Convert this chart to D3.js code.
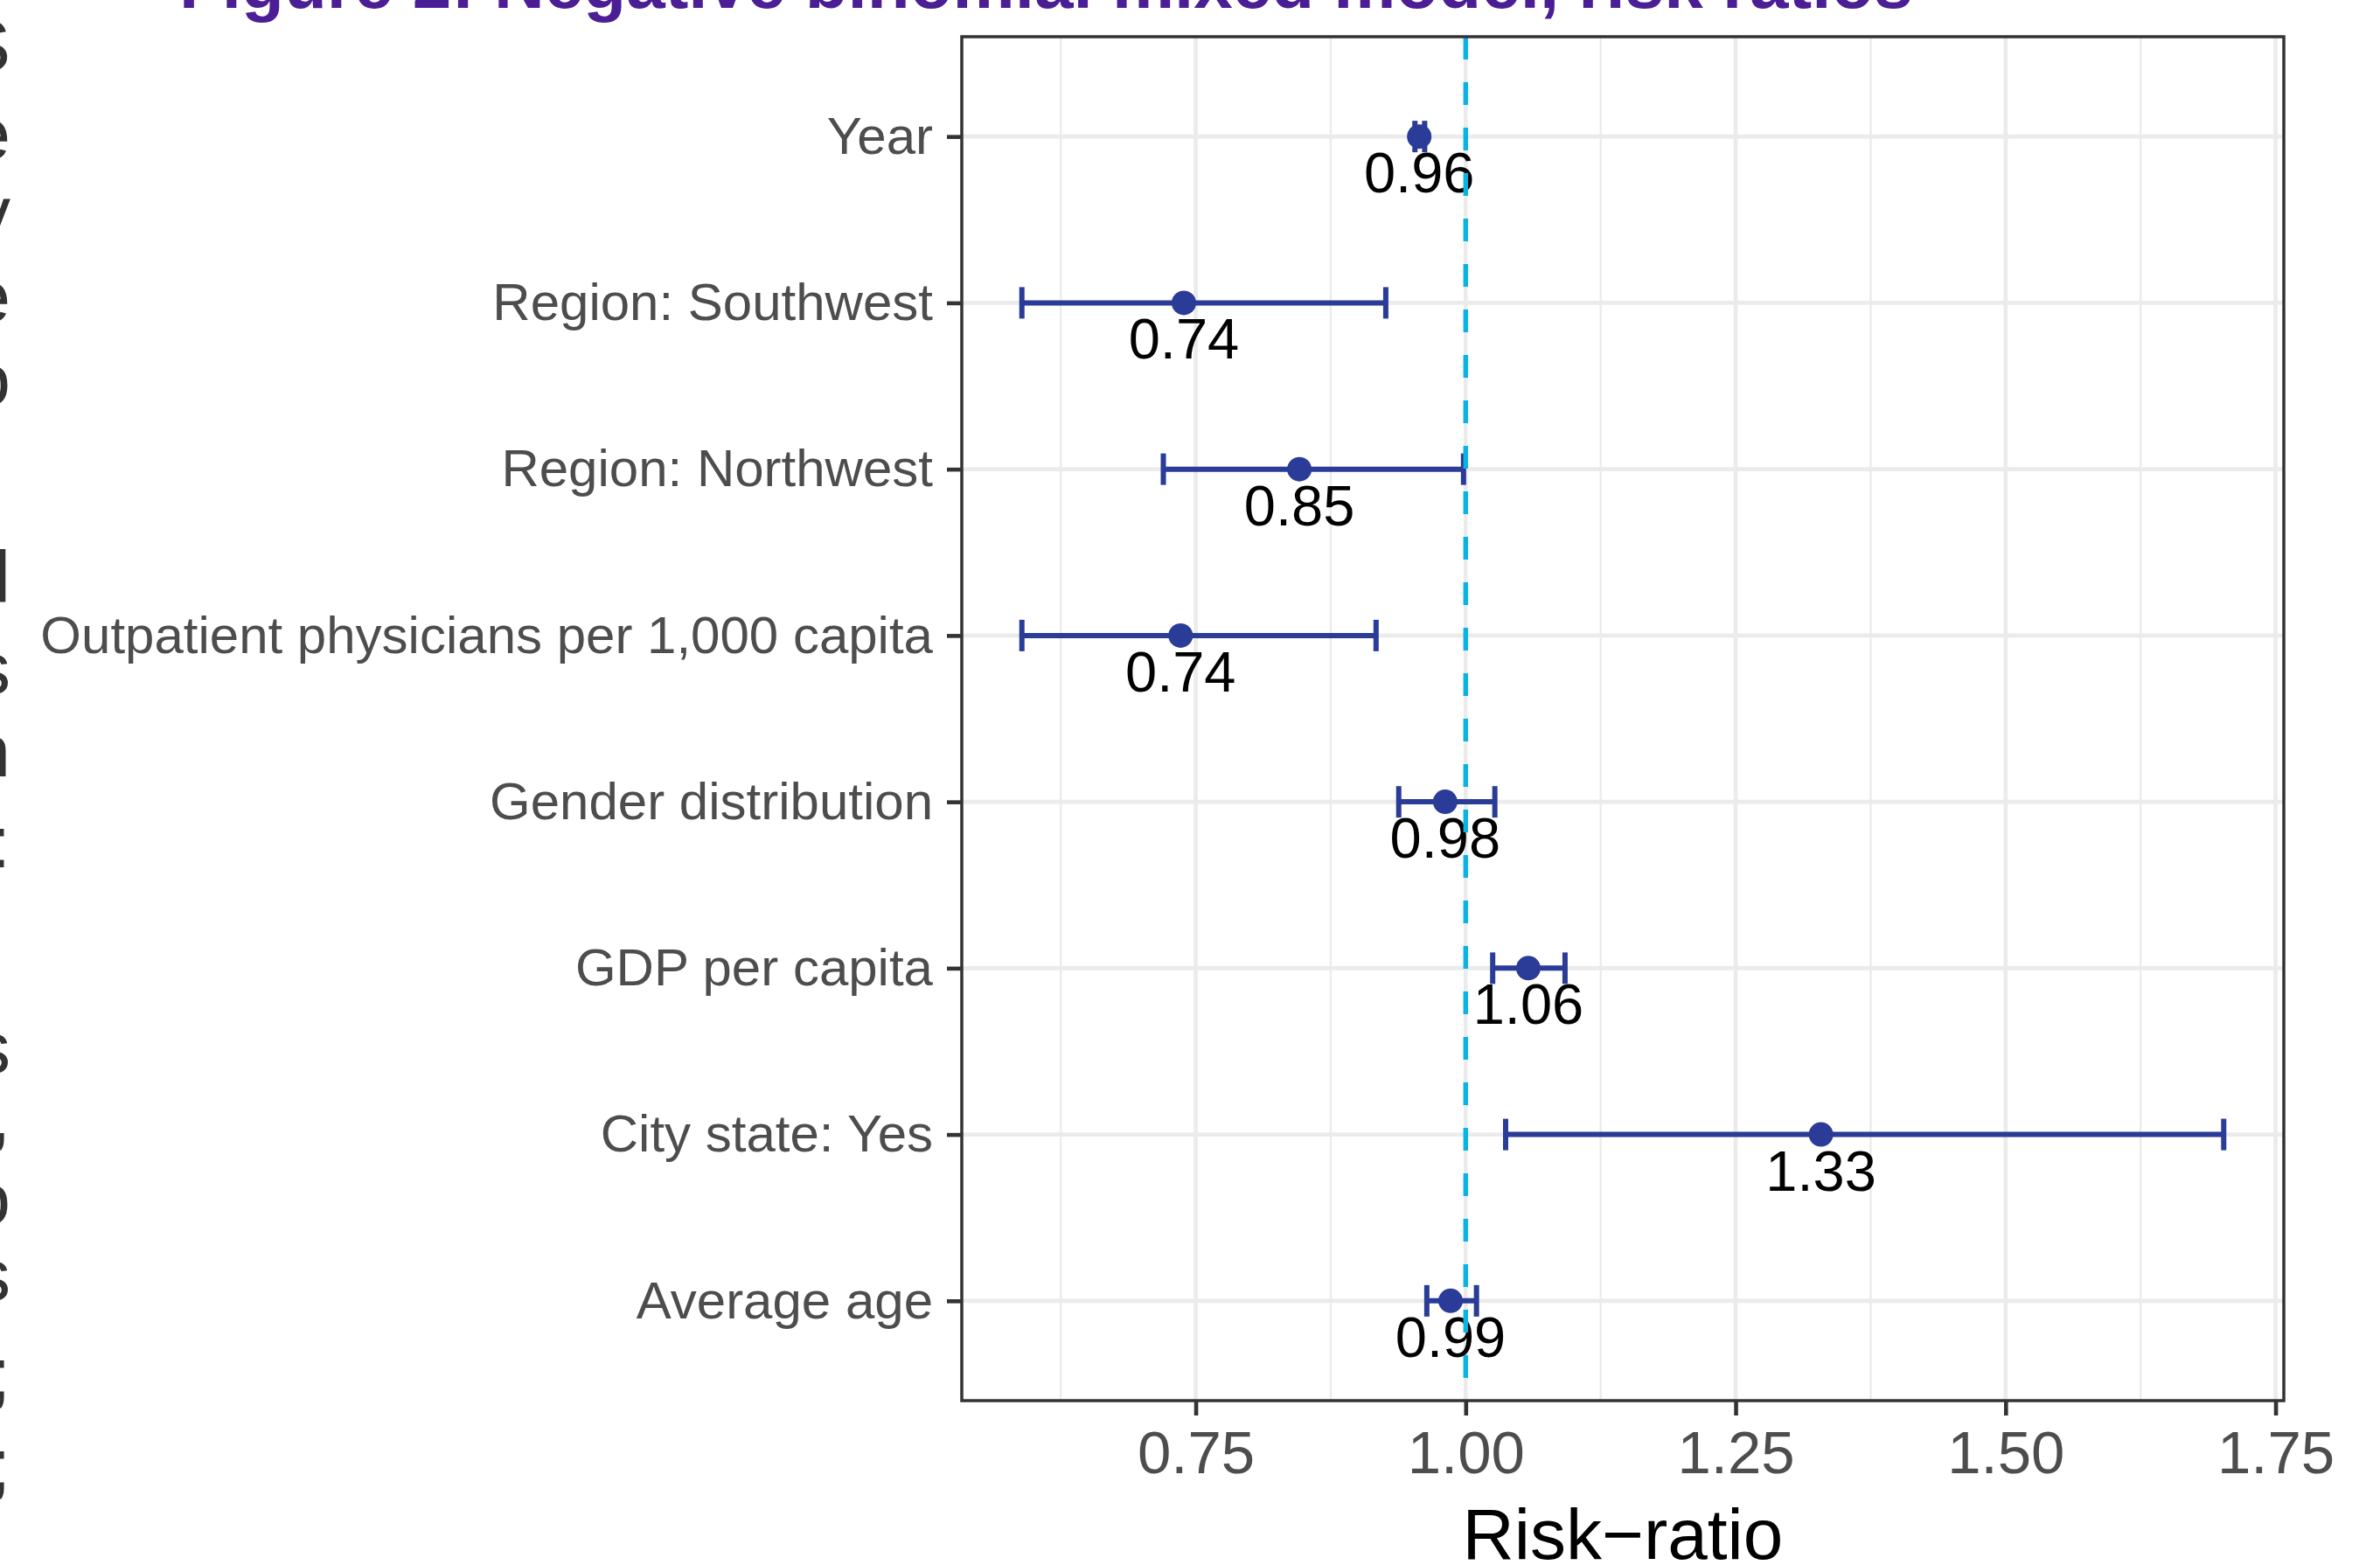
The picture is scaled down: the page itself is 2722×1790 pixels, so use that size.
<!DOCTYPE html>
<html>
<head>
<meta charset="utf-8">
<script src="https://cdn.jsdelivr.net/npm/d3@7"></script>
<style>
  html, body { margin: 0; padding: 0; background: #fff; }
  svg { display: block; font-family: "Liberation Sans", Arial, Helvetica, sans-serif; }
</style>
</head>
<body>
<svg id="canvas" width="2722" height="1790"></svg>
<script>
// Data
let categories = [
    'Year',
    'Region: Southwest',
    'Region: Northwest',
    'Outpatient physicians per 1,000 capita',
    'Gender distribution',
    'GDP per capita',
    'City state: Yes',
    'Average age'
];
let estimates = [0.957, 0.739, 0.846, 0.736, 0.981, 1.058, 1.329, 0.986];
let lower = [0.953, 0.589, 0.720, 0.589, 0.938, 1.025, 1.037, 0.964];
let upper = [0.962, 0.926, 0.998, 0.917, 1.027, 1.092, 1.702, 1.010];
let xTicks = [0.75, 1.00, 1.25, 1.50, 1.75];
let xMinorTicks = [0.625, 0.875, 1.125, 1.375, 1.625];
let refValue = 1;

// Cut-off text fragments at the left edge of the page
let edgeGlyphs = ['S', 'e', 'y', 'e', 'o', 'l', 's', 'n', ':', 's', ',', 'o', 's', ';', ';'];
let edgeLines = [52, 153, 243, 339, 434, 660, 764, 859, 963, 1198, 1276, 1371, 1458, 1571, 1675];

let canvas = d3.select('#canvas');

// Panel geometry
let panel = { left: 1100, right: 2612, top: 42, bottom: 1602 };

// ggplot-style 5% expansion
let lo = d3.min(lower), hi = d3.max(upper);
let pad = (hi - lo) * 0.05;
let x = d3.scaleLinear().domain([lo - pad, hi + pad]).range([panel.left, panel.right]);
let y = d3.scalePoint().domain(categories).range([panel.top, panel.bottom]).padding(0.6);

let rows = categories.map((c, i) => ({ cat: c, est: estimates[i], lo: lower[i], hi: upper[i] }));

// Title (partly cut off at the top)
canvas.append('text')
    .attr('x', 205)
    .attr('y', 9)
    .attr('font-size', 80)
    .attr('font-weight', 'bold')
    .attr('fill', '#4B1E96')
    .text('Figure 2: Negative binomial mixed model, risk ratios');

// Edge glyphs
canvas.append('g').selectAll('text')
    .data(edgeGlyphs)
    .enter()
    .append('text')
    .attr('x', 12)
    .attr('y', (d, i) => edgeLines[i])
    .attr('dy', '0.35em')
    .attr('text-anchor', 'end')
    .attr('font-size', 84)
    .attr('fill', '#333')
    .text((d) => d);

// Grid
let grid = canvas.append('g');
grid.selectAll('.minor')
    .data(xMinorTicks)
    .enter()
    .append('line')
    .attr('x1', (d) => x(d)).attr('x2', (d) => x(d))
    .attr('y1', panel.top).attr('y2', panel.bottom)
    .attr('stroke', '#EBEBEB').attr('stroke-width', 2.3);
grid.selectAll('.majorx')
    .data(xTicks)
    .enter()
    .append('line')
    .attr('x1', (d) => x(d)).attr('x2', (d) => x(d))
    .attr('y1', panel.top).attr('y2', panel.bottom)
    .attr('stroke', '#EBEBEB').attr('stroke-width', 4.6);
grid.selectAll('.majory')
    .data(categories)
    .enter()
    .append('line')
    .attr('x1', panel.left).attr('x2', panel.right)
    .attr('y1', (d) => y(d)).attr('y2', (d) => y(d))
    .attr('stroke', '#EBEBEB').attr('stroke-width', 4.6);

let markColor = '#2A3B98';

// Error bars
let bars = canvas.append('g').attr('stroke', markColor).attr('fill', 'none');
bars.selectAll('.hbar')
    .data(rows)
    .enter()
    .append('line')
    .attr('x1', (d) => x(d.lo)).attr('x2', (d) => x(d.hi))
    .attr('y1', (d) => y(d.cat)).attr('y2', (d) => y(d.cat))
    .attr('stroke-width', 6);
['lo', 'hi'].forEach((k) => {
    bars.selectAll('.cap-' + k)
        .data(rows)
        .enter()
        .append('line')
        .attr('x1', (d) => x(d[k])).attr('x2', (d) => x(d[k]))
        .attr('y1', (d) => y(d.cat) - 18).attr('y2', (d) => y(d.cat) + 18)
        .attr('stroke-width', 6);
});

// Points
canvas.append('g').selectAll('circle')
    .data(rows)
    .enter()
    .append('circle')
    .attr('cx', (d) => x(d.est))
    .attr('cy', (d) => y(d.cat))
    .attr('r', 14)
    .attr('fill', markColor);

// Value labels
let fmt = d3.format('.2f');
canvas.append('g').selectAll('text')
    .data(rows)
    .enter()
    .append('text')
    .attr('x', (d) => x(d.est))
    .attr('y', (d) => y(d.cat) + 64)
    .attr('text-anchor', 'middle')
    .attr('font-size', 65)
    .attr('fill', '#000')
    .text((d) => fmt(d.est));

// Reference line
canvas.append('line')
    .attr('x1', x(refValue)).attr('x2', x(refValue))
    .attr('y1', panel.top).attr('y2', panel.bottom)
    .attr('stroke', '#0BB3E3')
    .attr('stroke-width', 5.5)
    .attr('stroke-dasharray', '26,26');

// Panel border
canvas.append('rect')
    .attr('x', panel.left).attr('y', panel.top)
    .attr('width', panel.right - panel.left)
    .attr('height', panel.bottom - panel.top)
    .attr('fill', 'none')
    .attr('stroke', '#333333')
    .attr('stroke-width', 3.5);

// Axes
let xAxis = canvas.append('g')
    .attr('transform', `translate(0,${panel.bottom})`)
    .call(d3.axisBottom(x).tickValues(xTicks).tickFormat(d3.format('.2f')).tickSize(17).tickPadding(17));
let yAxis = canvas.append('g')
    .attr('transform', `translate(${panel.left},0)`)
    .call(d3.axisLeft(y).tickSize(17).tickPadding(16));

[xAxis, yAxis].forEach((ax) => {
    ax.select('.domain').remove();
    ax.selectAll('.tick line').attr('stroke', '#333333').attr('stroke-width', 4.6);
    ax.selectAll('.tick text').attr('fill', '#4D4D4D').attr('font-family', null);
});
xAxis.attr('font-size', null).selectAll('.tick text').attr('font-size', 69);
yAxis.attr('font-size', null).selectAll('.tick text').attr('font-size', 60);

// Axis title
canvas.append('text')
    .attr('x', (panel.left + panel.right) / 2)
    .attr('y', 1783)
    .attr('text-anchor', 'middle')
    .attr('font-size', 82)
    .attr('fill', '#000')
    .text('Risk\u2212ratio');
</script>
</body>
</html>
